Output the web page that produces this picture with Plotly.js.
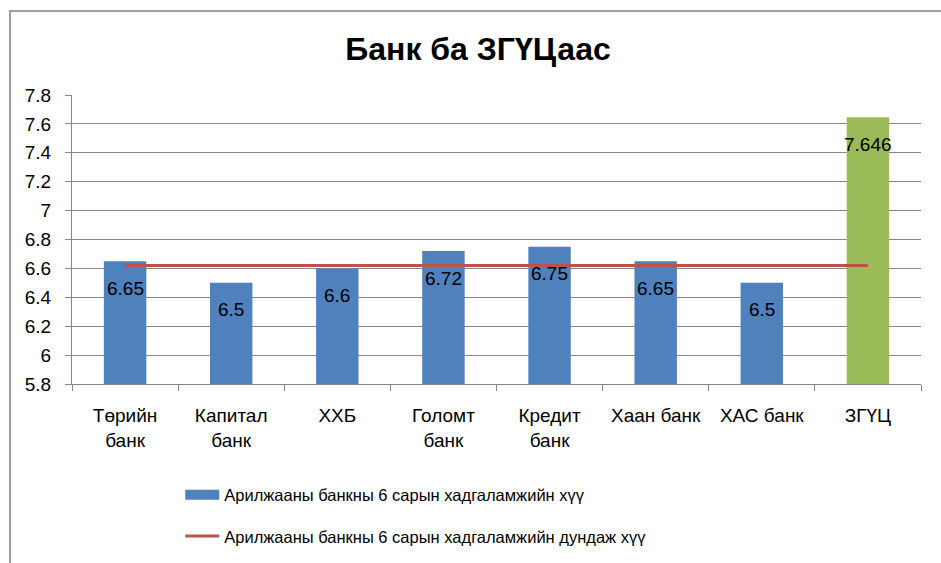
<!DOCTYPE html>
<html>
<head>
<meta charset="utf-8">
<script src="https://cdn.plot.ly/plotly-3.0.1.min.js"></script>
<style>
  html, body { margin: 0; padding: 0; background: #fff; }
  #frame { position: absolute; left: 9px; top: 10px; width: 940px; height: 560px;
           border-left: 2px solid #a0a0a0; border-top: 2px solid #a0a0a0; }
  #chart { position: absolute; left: 0; top: 0; width: 941px; height: 563px; }
</style>
</head>
<body>
<div id="frame"></div>
<div id="chart"></div>
<script>
const categories = ["Төрийн<br>банк", "Капитал<br>банк", "ХХБ", "Голомт<br>банк", "Кредит<br>банк", "Хаан банк", "ХАС банк", "ЗГҮЦ"];
const rateValues = [6.65, 6.5, 6.6, 6.72, 6.75, 6.65, 6.5, 7.646];
const avgValues = [6.62, 6.62, 6.62, 6.62, 6.62, 6.62, 6.62, 6.62];
const barColors = ["#4F81BD", "#4F81BD", "#4F81BD", "#4F81BD", "#4F81BD", "#4F81BD", "#4F81BD", "#9BBB59"];
const seriesNames = ["Арилжааны банкны 6 сарын хадгаламжийн хүү", "Арилжааны банкны 6 сарын хадгаламжийн дундаж хүү"];
const titleText = "Банк ба ЗГҮЦаас";

const FONT = "Liberation Sans, Arial, sans-serif";

const traces = [
  {
    type: "bar",
    x: categories,
    y: rateValues,
    name: seriesNames[0],
    marker: { color: barColors },
    showlegend: false,
    hoverinfo: "x+y"
  },
  {
    // legend swatch for the bar series (wide rectangle like the original); draws nothing in the plot
    type: "scatter",
    mode: "lines",
    x: [categories[0]],
    y: [null],
    name: seriesNames[0],
    line: { color: "#4F81BD", width: 10 },
    legendgroup: "a",
    hoverinfo: "skip"
  },
  {
    type: "scatter",
    mode: "lines",
    x: categories,
    y: avgValues,
    name: seriesNames[1],
    line: { color: "#C0504D", width: 3 },
    legendgroup: "b"
  }
];

const annotations = categories.map((c, i) => ({
  x: c, y: rateValues[i], xref: "x", yref: "y",
  text: String(rateValues[i]),
  showarrow: false, yshift: -27,
  font: { family: FONT, size: 19, color: "#000" }
}));

const layout = {
  width: 941, height: 563,
  paper_bgcolor: "rgba(0,0,0,0)",
  plot_bgcolor: "rgba(0,0,0,0)",
  margin: { l: 72, r: 20, t: 95, b: 179 },
  title: { text: "<b>" + titleText + "</b>", x: 0.508, xanchor: "center", y: 0.913, yanchor: "middle",
           font: { family: FONT, size: 32, color: "#000" } },
  bargap: 0.6,
  showlegend: true,
  legend: { x: 0.1275, xanchor: "left", xref: "paper", y: 0.152, yanchor: "top", yref: "container",
            orientation: "v", itemwidth: 34,
            traceorder: "grouped", tracegroupgap: 17,
            font: { family: FONT, size: 16.5, color: "#000" } },
  xaxis: {
    type: "category",
    showline: true, linecolor: "#868686", linewidth: 1,
    ticks: "outside", tickson: "boundaries", ticklen: 6, tickcolor: "#868686",
    showgrid: false, automargin: false,
    ticklabelstandoff: 14,
    tickfont: { family: FONT, size: 19, color: "#000" }
  },
  yaxis: {
    range: [5.8, 7.8], tick0: 5.8, dtick: 0.2,
    showline: true, linecolor: "#868686", linewidth: 1,
    ticks: "outside", ticklen: 6, tickcolor: "#868686",
    showgrid: true, gridcolor: "#868686", gridwidth: 1,
    zeroline: false, automargin: false,
    ticklabelstandoff: 10,
    tickfont: { family: FONT, size: 19, color: "#000" }
  },
  annotations: annotations
};

Plotly.newPlot("chart", traces, layout, { displayModeBar: false, staticPlot: true });
</script>
</body>
</html>
